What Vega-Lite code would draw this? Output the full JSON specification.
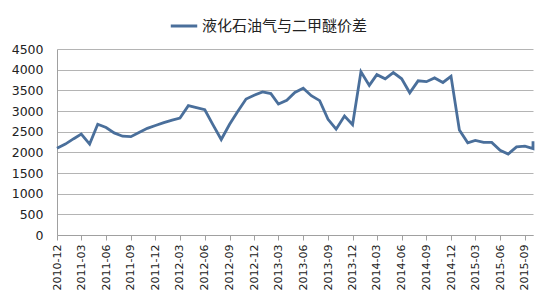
{
  "$schema": "https://vega.github.io/schema/vega-lite/v6.json",
  "autosize": "none",
  "width": 476,
  "height": 186,
  "padding": {"left": 57, "top": 49, "right": 17, "bottom": 65},
  "background": "white",
  "config": {"view": {"stroke": null}, "font": "DejaVu Sans"},
  "data": {"values": [
    {"d": "2010-12-01", "v": 2100, "s": "液化石油气与二甲醚价差"},
    {"d": "2011-01-01", "v": 2200, "s": "液化石油气与二甲醚价差"},
    {"d": "2011-02-01", "v": 2330, "s": "液化石油气与二甲醚价差"},
    {"d": "2011-03-01", "v": 2440, "s": "液化石油气与二甲醚价差"},
    {"d": "2011-04-01", "v": 2200, "s": "液化石油气与二甲醚价差"},
    {"d": "2011-05-01", "v": 2680, "s": "液化石油气与二甲醚价差"},
    {"d": "2011-06-01", "v": 2600, "s": "液化石油气与二甲醚价差"},
    {"d": "2011-07-01", "v": 2470, "s": "液化石油气与二甲醚价差"},
    {"d": "2011-08-01", "v": 2390, "s": "液化石油气与二甲醚价差"},
    {"d": "2011-09-01", "v": 2380, "s": "液化石油气与二甲醚价差"},
    {"d": "2011-10-01", "v": 2480, "s": "液化石油气与二甲醚价差"},
    {"d": "2011-11-01", "v": 2580, "s": "液化石油气与二甲醚价差"},
    {"d": "2011-12-01", "v": 2650, "s": "液化石油气与二甲醚价差"},
    {"d": "2012-01-01", "v": 2720, "s": "液化石油气与二甲醚价差"},
    {"d": "2012-02-01", "v": 2780, "s": "液化石油气与二甲醚价差"},
    {"d": "2012-03-01", "v": 2830, "s": "液化石油气与二甲醚价差"},
    {"d": "2012-04-01", "v": 3130, "s": "液化石油气与二甲醚价差"},
    {"d": "2012-05-01", "v": 3080, "s": "液化石油气与二甲醚价差"},
    {"d": "2012-06-01", "v": 3030, "s": "液化石油气与二甲醚价差"},
    {"d": "2012-07-01", "v": 2670, "s": "液化石油气与二甲醚价差"},
    {"d": "2012-08-01", "v": 2310, "s": "液化石油气与二甲醚价差"},
    {"d": "2012-09-01", "v": 2680, "s": "液化石油气与二甲醚价差"},
    {"d": "2012-10-01", "v": 2990, "s": "液化石油气与二甲醚价差"},
    {"d": "2012-11-01", "v": 3290, "s": "液化石油气与二甲醚价差"},
    {"d": "2012-12-01", "v": 3380, "s": "液化石油气与二甲醚价差"},
    {"d": "2013-01-01", "v": 3460, "s": "液化石油气与二甲醚价差"},
    {"d": "2013-02-01", "v": 3420, "s": "液化石油气与二甲醚价差"},
    {"d": "2013-03-01", "v": 3170, "s": "液化石油气与二甲醚价差"},
    {"d": "2013-04-01", "v": 3260, "s": "液化石油气与二甲醚价差"},
    {"d": "2013-05-01", "v": 3450, "s": "液化石油气与二甲醚价差"},
    {"d": "2013-06-01", "v": 3550, "s": "液化石油气与二甲醚价差"},
    {"d": "2013-07-01", "v": 3370, "s": "液化石油气与二甲醚价差"},
    {"d": "2013-08-01", "v": 3250, "s": "液化石油气与二甲醚价差"},
    {"d": "2013-09-01", "v": 2800, "s": "液化石油气与二甲醚价差"},
    {"d": "2013-10-01", "v": 2560, "s": "液化石油气与二甲醚价差"},
    {"d": "2013-11-01", "v": 2880, "s": "液化石油气与二甲醚价差"},
    {"d": "2013-12-01", "v": 2670, "s": "液化石油气与二甲醚价差"},
    {"d": "2014-01-01", "v": 3950, "s": "液化石油气与二甲醚价差"},
    {"d": "2014-02-01", "v": 3620, "s": "液化石油气与二甲醚价差"},
    {"d": "2014-03-01", "v": 3880, "s": "液化石油气与二甲醚价差"},
    {"d": "2014-04-01", "v": 3780, "s": "液化石油气与二甲醚价差"},
    {"d": "2014-05-01", "v": 3930, "s": "液化石油气与二甲醚价差"},
    {"d": "2014-06-01", "v": 3780, "s": "液化石油气与二甲醚价差"},
    {"d": "2014-07-01", "v": 3440, "s": "液化石油气与二甲醚价差"},
    {"d": "2014-08-01", "v": 3730, "s": "液化石油气与二甲醚价差"},
    {"d": "2014-09-01", "v": 3710, "s": "液化石油气与二甲醚价差"},
    {"d": "2014-10-01", "v": 3800, "s": "液化石油气与二甲醚价差"},
    {"d": "2014-11-01", "v": 3690, "s": "液化石油气与二甲醚价差"},
    {"d": "2014-12-01", "v": 3840, "s": "液化石油气与二甲醚价差"},
    {"d": "2015-01-01", "v": 2540, "s": "液化石油气与二甲醚价差"},
    {"d": "2015-02-01", "v": 2230, "s": "液化石油气与二甲醚价差"},
    {"d": "2015-03-01", "v": 2290, "s": "液化石油气与二甲醚价差"},
    {"d": "2015-04-01", "v": 2240, "s": "液化石油气与二甲醚价差"},
    {"d": "2015-05-01", "v": 2240, "s": "液化石油气与二甲醚价差"},
    {"d": "2015-06-01", "v": 2050, "s": "液化石油气与二甲醚价差"},
    {"d": "2015-07-01", "v": 1960, "s": "液化石油气与二甲醚价差"},
    {"d": "2015-08-01", "v": 2130, "s": "液化石油气与二甲醚价差"},
    {"d": "2015-09-01", "v": 2150, "s": "液化石油气与二甲醚价差"},
    {"d": "2015-10-01", "v": 2090, "s": "液化石油气与二甲醚价差"},
    {"d": "2015-10-01", "v": 2270, "s": "液化石油气与二甲醚价差"}
  ]},
  "mark": {"type": "line", "strokeWidth": 2.8, "strokeJoin": "miter"},
  "encoding": {
    "x": {
      "field": "d", "type": "temporal",
      "scale": {"type": "utc", "domain": [{"year": 2010, "month": 12, "date": 1, "utc": true}, {"year": 2015, "month": 10, "date": 1, "utc": true}], "nice": false},
      "axis": {
        "title": null,
        "labelExpr": "utcFormat(datum.value, '%Y-%m')",
        "values": [
          {"year": 2010, "month": 12, "date": 1, "utc": true},
          {"year": 2011, "month": 3, "date": 1, "utc": true},
          {"year": 2011, "month": 6, "date": 1, "utc": true},
          {"year": 2011, "month": 9, "date": 1, "utc": true},
          {"year": 2011, "month": 12, "date": 1, "utc": true},
          {"year": 2012, "month": 3, "date": 1, "utc": true},
          {"year": 2012, "month": 6, "date": 1, "utc": true},
          {"year": 2012, "month": 9, "date": 1, "utc": true},
          {"year": 2012, "month": 12, "date": 1, "utc": true},
          {"year": 2013, "month": 3, "date": 1, "utc": true},
          {"year": 2013, "month": 6, "date": 1, "utc": true},
          {"year": 2013, "month": 9, "date": 1, "utc": true},
          {"year": 2013, "month": 12, "date": 1, "utc": true},
          {"year": 2014, "month": 3, "date": 1, "utc": true},
          {"year": 2014, "month": 6, "date": 1, "utc": true},
          {"year": 2014, "month": 9, "date": 1, "utc": true},
          {"year": 2014, "month": 12, "date": 1, "utc": true},
          {"year": 2015, "month": 3, "date": 1, "utc": true},
          {"year": 2015, "month": 6, "date": 1, "utc": true},
          {"year": 2015, "month": 9, "date": 1, "utc": true}
        ],
        "labelAngle": -90,
        "labelAlign": "right",
        "labelBaseline": "middle",
        "labelFontSize": 11,
        "labelColor": "#222222",
        "labelPadding": 4,
        "labelOverlap": false,
        "labelBound": false,
        "labelFlush": false,
        "grid": false,
        "domainColor": "#a0a0a0",
        "tickColor": "#a0a0a0",
        "tickSize": 5
      }
    },
    "y": {
      "field": "v", "type": "quantitative",
      "scale": {"domain": [0, 4500], "nice": false},
      "axis": {
        "title": null,
        "format": "d",
        "values": [0, 500, 1000, 1500, 2000, 2500, 3000, 3500, 4000, 4500],
        "labelFontSize": 12.5,
        "labelColor": "#222222",
        "labelPadding": 14,
        "ticks": false,
        "gridColor": "#b4b4b4",
        "gridWidth": 1,
        "domainColor": "#a0a0a0"
      }
    },
    "color": {
      "field": "s", "type": "nominal",
      "scale": {"range": ["#4a6f9b"]},
      "legend": {
        "title": null,
        "orient": "none",
        "legendX": 112,
        "legendY": -38,
        "symbolType": "stroke",
        "symbolSize": 700,
        "symbolStrokeWidth": 3,
        "labelFont": "Noto Sans CJK SC",
        "labelFontSize": 15,
        "labelLimit": 300,
        "labelColor": "#222222",
        "labelOffset": 3
      }
    }
  }
}
